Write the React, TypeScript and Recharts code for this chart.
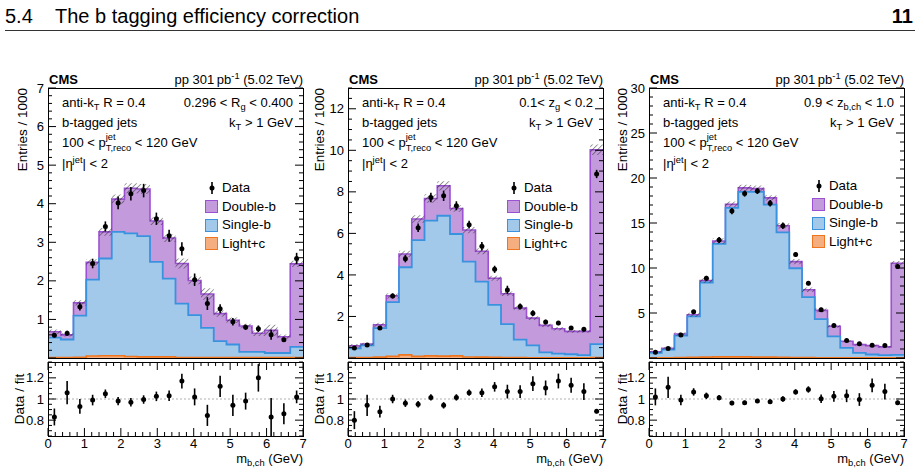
import React from 'react';
import { ComposedChart, Area, Scatter, ErrorBar, XAxis, YAxis, ReferenceLine } from 'recharts';

// m_b,ch binning (GeV), 20 bins from 0 to 7
const binEdges = [0, 0.35, 0.7, 1.05, 1.4, 1.75, 2.1, 2.45, 2.8, 3.15, 3.5, 3.85, 4.2, 4.55, 4.9, 5.25, 5.6, 5.95, 6.3, 6.65, 7];

// 0.296 < R_g < 0.400 (stack tops, entries / 1000)
const rgTotal = [0.68, 0.6, 1.43, 2.48, 3.27, 4.12, 4.4, 4.38, 3.55, 3.11, 2.45, 2.01, 1.66, 1.15, 0.98, 0.83, 0.64, 0.72, 0.55, 2.44];
const rgSingle = [0.53, 0.48, 1.1, 2.03, 2.58, 3.27, 3.23, 3.16, 2.49, 2.06, 1.41, 1.11, 0.78, 0.44, 0.35, 0.16, 0.16, 0.13, 0.13, 0.29];
const rgLight = [0.01, 0.01, 0.02, 0.05, 0.06, 0.06, 0.04, 0.03, 0.03, 0.03, 0.01, 0.01, 0.01, 0.01, 0.01, 0.01, 0.01, 0.01, 0.01, 0.01];
const rgFitUnc = [0.06, 0.04, 0.07, 0.08, 0.1, 0.12, 0.13, 0.13, 0.1, 0.1, 0.13, 0.1, 0.15, 0.08, 0.07, 0.06, 0.07, 0.14, 0.06, 0.08];
const rgData = [0.59, 0.64, 1.33, 2.45, 3.41, 4.02, 4.26, 4.34, 3.61, 3.17, 2.83, 2.03, 1.41, 1.28, 0.94, 0.8, 0.76, 0.6, 0.47, 2.58];
const rgRatio = [0.83, 1.06, 0.93, 0.99, 1.05, 0.98, 0.97, 0.995, 1.025, 1.03, 1.17, 1.02, 0.845, 1.12, 0.94, 0.98, 1.2, 0.83, 0.86, 1.02];
const rgRatioErr = [0.08, 0.11, 0.07, 0.05, 0.04, 0.04, 0.04, 0.04, 0.045, 0.05, 0.07, 0.08, 0.1, 0.1, 0.1, 0.08, 0.13, 0.18, 0.1, 0.06];

// 0.1 < z_g < 0.2
const zgTotal = [0.59, 0.67, 1.6, 2.99, 5.01, 6.69, 7.68, 8.29, 7.2, 6.16, 5.14, 3.84, 3.09, 2.4, 1.92, 1.57, 1.41, 1.28, 1.28, 10.03];
const zgSingle = [0.46, 0.61, 1.44, 2.69, 4.37, 5.68, 6.61, 6.85, 5.97, 4.64, 3.68, 2.56, 1.63, 0.88, 0.61, 0.27, 0.21, 0.18, 0.14, 0.67];
const zgLight = [0.02, 0.02, 0.04, 0.08, 0.15, 0.08, 0.1, 0.09, 0.1, 0.05, 0.04, 0.03, 0.02, 0.02, 0.01, 0.01, 0.01, 0.01, 0.01, 0.02];
const zgFitUnc = [0.08, 0.07, 0.1, 0.12, 0.15, 0.18, 0.2, 0.22, 0.16, 0.15, 0.14, 0.12, 0.11, 0.1, 0.09, 0.08, 0.08, 0.07, 0.07, 0.25];
const zgData = [0.48, 0.62, 1.44, 2.99, 4.78, 6.27, 7.73, 7.81, 7.33, 6.42, 5.38, 4.27, 3.28, 2.48, 2.16, 1.73, 1.68, 1.44, 1.39, 8.86];
const zgRatio = [0.8, 0.94, 0.88, 1.0, 0.96, 0.95, 1.015, 0.94, 1.015, 1.06, 1.06, 1.115, 1.07, 1.07, 1.145, 1.105, 1.17, 1.13, 1.07, 0.885];
const zgRatioErr = [0.085, 0.1, 0.055, 0.04, 0.035, 0.03, 0.03, 0.03, 0.03, 0.03, 0.04, 0.045, 0.065, 0.06, 0.07, 0.07, 0.07, 0.07, 0.08, 0.02];

// 0.9 < z_b,ch < 1.0
const zbTotal = [0.68, 1.09, 2.67, 4.81, 8.61, 13.0, 17.09, 18.9, 18.82, 17.79, 14.69, 10.71, 7.58, 5.29, 3.52, 1.86, 1.49, 1.38, 1.24, 10.52];
const zbSingle = [0.57, 0.94, 2.49, 4.63, 8.39, 12.67, 16.69, 18.46, 18.46, 17.05, 13.96, 9.97, 6.77, 4.33, 2.41, 1.12, 0.57, 0.39, 0.31, 0.35];
const zbLight = [0.02, 0.03, 0.05, 0.08, 0.1, 0.12, 0.12, 0.12, 0.1, 0.1, 0.08, 0.06, 0.05, 0.03, 0.02, 0.02, 0.01, 0.01, 0.01, 0.02];
const zbFitUnc = [0.15, 0.15, 0.2, 0.22, 0.25, 0.3, 0.3, 0.35, 0.35, 0.3, 0.3, 0.28, 0.25, 0.2, 0.15, 0.12, 0.1, 0.1, 0.1, 0.25];
const zbData = [0.65, 1.05, 2.56, 5.14, 8.87, 13.11, 16.32, 18.27, 18.56, 17.2, 14.69, 11.49, 8.3, 5.36, 3.6, 1.94, 1.57, 1.42, 1.38, 10.16];
const zbRatio = [1.02, 1.11, 0.99, 1.067, 1.03, 1.013, 0.962, 0.965, 0.98, 0.975, 1.0, 1.067, 1.09, 1.003, 1.025, 1.03, 0.995, 1.13, 1.07, 0.965];
const zbRatioErr = [0.08, 0.1, 0.05, 0.035, 0.03, 0.025, 0.02, 0.018, 0.018, 0.02, 0.025, 0.025, 0.03, 0.04, 0.05, 0.06, 0.06, 0.065, 0.075, 0.02];

const legendItems = [
  { label: 'Data', kind: 'data' },
  { label: 'Double-b', kind: 'box', fill: '#c39bdc', line: '#9b51d1' },
  { label: 'Single-b', kind: 'box', fill: '#a2c8ea', line: '#3a92df' },
  { label: 'Light+c', kind: 'box', fill: '#f5ae80', line: '#f0751f' },
];

const FONT = '"Liberation Sans", Arial, Helvetica, sans-serif';
const PLOT_W = 255;
const MAIN_TOP = 88;
const MAIN_H = 270;
const RATIO_TOP = 362;
const RATIO_H = 74;
const Y_AXIS_W = 48;
const TEXT_SIZE = 13;

const steps = (lo: number, hi: number, step: number) => {
  const out: number[] = [];
  for (let k = 0; lo + k * step <= hi + 1e-9; k++) out.push(+(lo + k * step).toFixed(4));
  return out;
};
const onStep = (v: number, step: number) => Math.abs(v / step - Math.round(v / step)) < 1e-6;

const xTicks = steps(0, 7, 0.2);
const ratioTicks = steps(0.65, 1.35, 0.05);

const Sub = ({ children }: any) => (
  <span style={{ fontSize: '0.72em', position: 'relative', top: '0.32em' }}>{children}</span>
);
const Sup = ({ children }: any) => (
  <span style={{ fontSize: '0.72em', position: 'relative', top: '-0.48em' }}>{children}</span>
);
const SupSub = ({ sup, sub }: any) => (
  <span style={{ position: 'relative', display: 'inline-block', fontSize: '0.72em', lineHeight: 1 }}>
    <span style={{ position: 'relative', top: '0.45em' }}>{sub}</span>
    <span style={{ position: 'absolute', left: 0, top: '-0.75em' }}>{sup}</span>
  </span>
);

const panels = [
  {
    id: 'rg', left: 48, yMax: 7, yMajor: 1, yMinor: 0.2, titleDx: 25, ratioDx: 28, legendX: 205, legendDy: 0,
    total: rgTotal, single: rgSingle, light: rgLight, unc: rgFitUnc, data: rgData, ratio: rgRatio, ratioErr: rgRatioErr,
    cut: <>0.296 &lt; R<Sub>g</Sub> &lt; 0.400</>,
  },
  {
    id: 'zg', left: 348, yMax: 13, yMajor: 2, yMinor: 0.5, titleDx: 28, ratioDx: 28, legendX: 507, legendDy: 0,
    total: zgTotal, single: zgSingle, light: zgLight, unc: zgFitUnc, data: zgData, ratio: zgRatio, ratioErr: zgRatioErr,
    cut: <>0.1&lt; z<Sub>g</Sub> &lt; 0.2</>,
  },
  {
    id: 'zb', left: 649, yMax: 30, yMajor: 5, yMinor: 1, titleDx: 26, ratioDx: 26, legendX: 812, legendDy: -2,
    total: zbTotal, single: zbSingle, light: zbLight, unc: zbFitUnc, data: zbData, ratio: zbRatio, ratioErr: zbRatioErr,
    cut: <>0.9 &lt; z<Sub>b,ch</Sub> &lt; 1.0</>,
  },
];

const fmtTick = (v: number) => String(Math.round(v * 10) / 10);

// ticks on bottom + top edges, pointing into the frame
const xTick = (plotH: number, labels: boolean) => (props: any) => {
  const { x, y, payload } = props;
  const major = onStep(payload.value, 1);
  const len = major ? 8 : 4;
  return (
    <g>
      <line x1={x} x2={x} y1={y} y2={y - len} stroke="#000" strokeWidth={1} />
      <line x1={x} x2={x} y1={y - plotH} y2={y - plotH + len} stroke="#000" strokeWidth={1} />
      {labels && major && (
        <text x={x} y={y + 11.5} textAnchor="middle" fontSize={13} fontFamily={FONT} fill="#000">
          {fmtTick(payload.value)}
        </text>
      )}
    </g>
  );
};

// ticks on left + right edges
const yTick = (majorStep: number, skipZero: boolean) => (props: any) => {
  const { x, y, payload } = props;
  const v = payload.value;
  const major = onStep(v, majorStep);
  const len = major ? 8 : 4;
  const showLabel = major && !(skipZero && v === 0);
  return (
    <g>
      <line x1={x} x2={x + len} y1={y} y2={y} stroke="#000" strokeWidth={1} />
      <line x1={x + PLOT_W} x2={x + PLOT_W - len} y1={y} y2={y} stroke="#000" strokeWidth={1} />
      {showLabel && (
        <text x={x - 4} y={y + 4.6} textAnchor="end" fontSize={13} fontFamily={FONT} fill="#000">
          {fmtTick(v)}
        </text>
      )}
    </g>
  );
};

const Dot = (props: any) => <circle cx={props.cx} cy={props.cy} r={2.5} fill="#000" />;

function histRows(p: any) {
  return binEdges.map((x, i) => {
    const k = Math.min(i, binEdges.length - 2);
    return {
      x,
      total: p.total[k],
      single: p.single[k],
      light: p.light[k],
      band: [p.total[k] - p.unc[k], p.total[k] + p.unc[k]],
    };
  });
}

function pointRows(values: number[], errs: number[]) {
  return values.map((y, i) => ({ x: (binEdges[i] + binEdges[i + 1]) / 2, y, e: errs[i] }));
}

const Frame = ({ left, top, height }: any) => (
  <div
    style={{
      position: 'absolute', left, top, width: PLOT_W + 1, height: height + 1,
      border: '1px solid #000', boxSizing: 'border-box', pointerEvents: 'none',
    }}
  />
);

const Txt = ({ x, base, size = TEXT_SIZE, align = 'left', bold = false, children }: any) => (
  <div
    style={{
      position: 'absolute', top: base - 0.85 * size, fontSize: size, lineHeight: 1,
      whiteSpace: 'nowrap', fontWeight: bold ? 700 : 400, color: '#000',
      ...(align === 'left' ? { left: x } : { right: 920 - x }),
    }}
  >
    {children}
  </div>
);

function Panel({ p }: any) {
  const rows = histRows(p);
  const dataPts = pointRows(p.data, p.ratioErr.map((e: number, i: number) => e * p.total[i]));
  const ratioPts = pointRows(p.ratio, p.ratioErr);
  const yTicks = steps(0, p.yMax, p.yMinor);
  const right = p.left + PLOT_W;
  const hatch = `hatch-${p.id}`;

  return (
    <>
      <div style={{ position: 'absolute', left: p.left - Y_AXIS_W, top: MAIN_TOP - 8 }}>
        <ComposedChart width={Y_AXIS_W + PLOT_W + 6} height={8 + MAIN_H + 4} data={rows}
          margin={{ top: 8, right: 6, bottom: 4, left: 0 }}>
          <defs>
            <pattern id={hatch} width={3.6} height={3.6} patternUnits="userSpaceOnUse" patternTransform="rotate(45)">
              <line x1={0} y1={0} x2={0} y2={3.6} stroke="#222" strokeWidth={0.9} />
            </pattern>
          </defs>
          <XAxis dataKey="x" type="number" domain={[0, 7]} ticks={xTicks} interval={0} allowDataOverflow
            height={0} tickSize={0} tickMargin={0} axisLine={false} tickLine={false} tick={xTick(MAIN_H, false)} />
          <YAxis type="number" domain={[0, p.yMax]} ticks={yTicks} interval={0} allowDataOverflow
            width={Y_AXIS_W} tickSize={0} tickMargin={0} axisLine={false} tickLine={false} tick={yTick(p.yMajor, true)} />
          <Area dataKey="total" type="stepAfter" fill="#c39bdc" fillOpacity={1} stroke="#9b51d1" strokeWidth={1.6}
            dot={false} activeDot={false} isAnimationActive={false} />
          <Area dataKey="single" type="stepAfter" fill="#a2c8ea" fillOpacity={1} stroke="#3a92df" strokeWidth={1.8}
            dot={false} activeDot={false} isAnimationActive={false} />
          <Area dataKey="light" type="stepAfter" fill="#f5ae80" fillOpacity={1} stroke="#f0751f" strokeWidth={1.6}
            dot={false} activeDot={false} isAnimationActive={false} />
          <Area dataKey="band" type="stepAfter" fill={`url(#${hatch})`} fillOpacity={1} stroke="none"
            dot={false} activeDot={false} isAnimationActive={false} />
          <Scatter data={dataPts} dataKey="y" shape={Dot} isAnimationActive={false}>
            <ErrorBar dataKey="e" direction="y" width={0} stroke="#000" strokeWidth={1.6} />
          </Scatter>
        </ComposedChart>
      </div>

      <div style={{ position: 'absolute', left: p.left - Y_AXIS_W, top: RATIO_TOP - 8 }}>
        <ComposedChart width={Y_AXIS_W + PLOT_W + 6} height={8 + RATIO_H + 22 + 2}
          margin={{ top: 8, right: 6, bottom: 2, left: 0 }}>
          <XAxis dataKey="x" type="number" domain={[0, 7]} ticks={xTicks} interval={0} allowDataOverflow
            height={22} tickSize={0} tickMargin={0} axisLine={false} tickLine={false} tick={xTick(RATIO_H, true)} />
          <YAxis type="number" domain={[0.65, 1.35]} ticks={ratioTicks} interval={0} allowDataOverflow
            width={Y_AXIS_W} tickSize={0} tickMargin={0} axisLine={false} tickLine={false} tick={yTick(0.2, false)} />
          <ReferenceLine y={1} stroke="#b0b0b0" strokeDasharray="2 2" strokeWidth={1} />
          <Scatter data={ratioPts} dataKey="y" shape={Dot} isAnimationActive={false}>
            <ErrorBar dataKey="e" direction="y" width={0} stroke="#000" strokeWidth={1.6} />
          </Scatter>
        </ComposedChart>
      </div>

      <Frame left={p.left} top={MAIN_TOP} height={MAIN_H} />
      <Frame left={p.left} top={RATIO_TOP} height={RATIO_H} />

      {/* axis titles */}
      <div style={{
        position: 'absolute', left: p.left - p.titleDx - 8, top: MAIN_TOP, width: 16, height: 160,
      }}>
        <div style={{
          position: 'absolute', right: 0, top: 0, width: 160, height: 16, lineHeight: '16px',
          fontSize: 13.5, textAlign: 'right', whiteSpace: 'nowrap',
          transform: 'translateX(-16px) rotate(-90deg)', transformOrigin: 'right top',
        }}>
          Entries / 1000
        </div>
      </div>
      <div style={{
        position: 'absolute', left: p.left - p.ratioDx - 8, top: RATIO_TOP + RATIO_H / 2 - 50, width: 16, height: 100,
      }}>
        <div style={{
          position: 'absolute', right: 0, top: 0, width: 100, height: 16, lineHeight: '16px',
          fontSize: 13.5, textAlign: 'center', whiteSpace: 'nowrap',
          transform: 'translateX(-16px) rotate(-90deg)', transformOrigin: 'right top',
        }}>
          Data / fit
        </div>
      </div>
      <Txt x={right} base={463} size={13} align="right">m<Sub>b,ch</Sub> (GeV)</Txt>

      {/* header and selection labels */}
      <Txt x={p.left + 1} base={84} size={13} bold>CMS</Txt>
      <Txt x={right} base={84} size={13} align="right">pp 301&#8201;pb<Sup>-1</Sup> (5.02 TeV)</Txt>
      <Txt x={p.left + 14} base={107}>anti-k<Sub>T</Sub> R = 0.4</Txt>
      <Txt x={right - 10} base={107} align="right">{p.cut}</Txt>
      <Txt x={p.left + 14} base={127}>b-tagged jets</Txt>
      <Txt x={right - 10} base={127} align="right">k<Sub>T</Sub> &gt; 1 GeV</Txt>
      <Txt x={p.left + 14} base={147}>100 &lt; p<SupSub sup="jet" sub="T,reco" /> &lt; 120 GeV</Txt>
      <Txt x={p.left + 14} base={168}>|&eta;<Sup>jet</Sup>| &lt; 2</Txt>

      {/* legend */}
      {legendItems.map((it, i) => {
        const cy = 188 + p.legendDy + i * 18.5;
        return (
          <React.Fragment key={it.label}>
            {it.kind === 'data' ? (
              <svg style={{ position: 'absolute', left: p.legendX, top: cy - 7 }} width={14} height={14}>
                <line x1={7} x2={7} y1={1} y2={13} stroke="#000" strokeWidth={1.6} />
                <circle cx={7} cy={7} r={2.5} fill="#000" />
              </svg>
            ) : (
              <div style={{
                position: 'absolute', left: p.legendX, top: cy - 6.5, width: 13, height: 13,
                background: it.fill, border: `1.5px solid ${it.line}`, boxSizing: 'border-box',
              }} />
            )}
            <Txt x={p.legendX + 17} base={cy + 4.7} size={13.3}>{it.label}</Txt>
          </React.Fragment>
        );
      })}
    </>
  );
}

export default function App() {
  return (
    <div style={{
      position: 'absolute', left: 0, top: 0, width: 920, height: 474, background: '#fff',
      fontFamily: FONT, color: '#000', overflow: 'hidden',
    }}>
      <Txt x={5} base={22.7} size={20}>5.4</Txt>
      <Txt x={55} base={22.7} size={20}>The b tagging efficiency correction</Txt>
      <Txt x={913} base={22.7} size={20} align="right" bold>11</Txt>
      <div style={{ position: 'absolute', left: 5, top: 30, width: 910, height: 1, background: '#333' }} />
      {panels.map((p) => <Panel key={p.id} p={p} />)}
    </div>
  );
}
